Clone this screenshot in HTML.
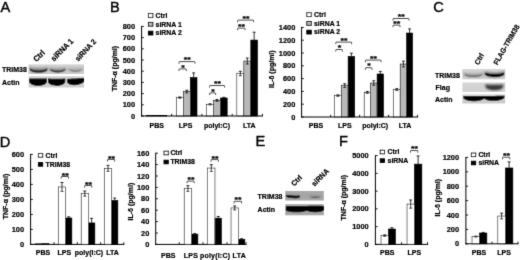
<!DOCTYPE html>
<html><head><meta charset="utf-8"><title>Figure</title>
<style>
html,body{margin:0;padding:0;background:#fff;}
body{width:520px;height:260px;overflow:hidden;}
svg{display:block;}
svg text{font-family:'Liberation Sans', Arial, sans-serif;fill:#000;stroke:#000;stroke-width:0.22px;}
</style></head><body>
<svg width="520" height="260" viewBox="0 0 520 260">
<defs><filter id="b0" x="-30%" y="-100%" width="160%" height="300%"><feGaussianBlur stdDeviation="0.55"/></filter><filter id="b1" x="-30%" y="-100%" width="160%" height="300%"><feGaussianBlur stdDeviation="0.8"/></filter><filter id="b2" x="-30%" y="-200%" width="160%" height="500%"><feGaussianBlur stdDeviation="0.9"/></filter><filter id="soft" x="0" y="0" width="520" height="260" filterUnits="userSpaceOnUse"><feConvolveMatrix order="3" kernelMatrix="0.018 0.135 0.018 0.135 1 0.135 0.018 0.135 0.018" divisor="1.612" edgeMode="duplicate" preserveAlpha="false"/></filter><clipPath id="c0"><rect x="28.60" y="64.60" width="55.40" height="9.40"/></clipPath><clipPath id="c1"><rect x="28.60" y="76.20" width="55.40" height="11.40"/></clipPath><clipPath id="c2"><rect x="462.40" y="69.00" width="42.80" height="10.30"/></clipPath><clipPath id="c3"><rect x="462.40" y="82.60" width="42.80" height="9.50"/></clipPath><clipPath id="c4"><rect x="462.40" y="94.40" width="42.80" height="9.00"/></clipPath><clipPath id="c5"><rect x="285.30" y="190.90" width="38.50" height="9.70"/></clipPath><clipPath id="c6"><rect x="285.30" y="204.20" width="38.50" height="11.00"/></clipPath></defs>
<rect x="0" y="0" width="520" height="260" fill="#fff"/>
<g filter="url(#soft)">
<text x="0.60" y="11.50" font-size="14.6" text-anchor="start" style="stroke-width:0.4px">A</text>
<text x="110.00" y="11.50" font-size="14.6" text-anchor="start" style="stroke-width:0.4px">B</text>
<text x="433.30" y="11.50" font-size="14.6" text-anchor="start" style="stroke-width:0.4px">C</text>
<text x="-0.20" y="146.60" font-size="14.6" text-anchor="start" style="stroke-width:0.4px">D</text>
<text x="255.40" y="146.40" font-size="14.6" text-anchor="start" style="stroke-width:0.4px">E</text>
<text x="339.00" y="146.40" font-size="14.6" text-anchor="start" style="stroke-width:0.4px">F</text>
<g clip-path="url(#c0)">
<rect x="27.60" y="63.60" width="57.40" height="11.40" fill="#c6c6c6"/>
<rect x="28.00" y="64.00" width="57.00" height="2.20" fill="#e0e0e0" opacity="0.7" filter="url(#b2)"/>
<rect x="28.00" y="72.80" width="57.00" height="1.60" fill="#dcdcdc" opacity="0.6" filter="url(#b2)"/>
<path d="M29.60 67.20 C31.76 69.07 45.44 69.07 47.60 67.20 L47.60 69.80 C45.44 73.67 31.76 73.67 29.60 69.80 Z" fill="#686868" opacity="0.85" filter="url(#b1)"/>
<path d="M30.00 68.50 C32.06 71.03 45.14 71.03 47.20 68.50 L47.20 70.00 C45.14 73.47 32.06 73.47 30.00 70.00 Z" fill="#161616" opacity="0.85" filter="url(#b0)"/>
<path d="M49.60 67.40 C51.52 69.27 63.68 69.27 65.60 67.40 L65.60 69.80 C63.68 73.40 51.52 73.40 49.60 69.80 Z" fill="#767676" opacity="0.8" filter="url(#b1)"/>
<path d="M50.20 68.80 C52.00 71.20 63.40 71.20 65.20 68.80 L65.20 70.00 C63.40 73.20 52.00 73.20 50.20 70.00 Z" fill="#262626" opacity="0.75" filter="url(#b0)"/>
<path d="M68.80 67.80 C70.41 69.40 80.59 69.40 82.20 67.80 L82.20 69.60 C80.59 72.67 70.41 72.67 68.80 69.60 Z" fill="#959595" opacity="0.7" filter="url(#b1)"/>
<path d="M69.60 69.00 C71.02 70.87 79.98 70.87 81.40 69.00 L81.40 70.00 C79.98 72.40 71.02 72.40 69.60 70.00 Z" fill="#606060" opacity="0.55" filter="url(#b0)"/>
</g>
<g clip-path="url(#c1)">
<rect x="27.60" y="75.20" width="57.40" height="13.40" fill="#cfcfcf"/>
<path d="M29.20 78.50 C31.32 78.50 44.78 78.50 46.90 78.50 L46.90 82.00 C44.78 87.20 31.32 87.20 29.20 82.00 Z" fill="#000" opacity="1" filter="url(#b0)"/>
<path d="M48.00 78.60 C50.08 78.87 63.22 78.87 65.30 78.60 L65.30 82.00 C63.22 87.20 50.08 87.20 48.00 82.00 Z" fill="#000" opacity="1" filter="url(#b0)"/>
<path d="M67.00 78.90 C69.06 78.90 82.14 78.00 84.20 78.00 L84.20 81.30 C82.14 85.83 69.06 86.73 67.00 82.20 Z" fill="#000" opacity="1" filter="url(#b0)"/>
</g>
<text transform="translate(2.00 72.10) scale(0.9346 1)" font-size="7.49" font-weight="bold" text-anchor="start">TRIM38</text>
<text transform="translate(2.00 84.90) scale(0.9346 1)" font-size="7.49" font-weight="bold" text-anchor="start">Actin</text>
<text transform="translate(36.50 62.20) rotate(-45) scale(0.9346 1)" font-size="7.92" font-weight="bold" text-anchor="start">Ctrl</text>
<text transform="translate(54.00 61.70) rotate(-45) scale(0.9346 1)" font-size="7.92" font-weight="bold" text-anchor="start">siRNA 1</text>
<text transform="translate(78.20 61.80) rotate(-47) scale(0.9346 1)" font-size="7.60" font-weight="bold" text-anchor="start">siRNA 2</text>
<g clip-path="url(#c2)">
<rect x="461.40" y="68.00" width="44.80" height="12.30" fill="#cbcbcb"/>
<rect x="462.00" y="68.50" width="44.00" height="2.40" fill="#e2e2e2" opacity="0.7" filter="url(#b2)"/>
<rect x="462.00" y="77.80" width="44.00" height="2.00" fill="#d8d8d8" opacity="0.6" filter="url(#b2)"/>
<path d="M463.60 72.80 C465.95 74.93 480.85 74.93 483.20 72.80 L483.20 74.40 C480.85 77.87 465.95 77.87 463.60 74.40 Z" fill="#7a7a7a" opacity="0.8" filter="url(#b1)"/>
<path d="M465.00 74.00 C467.04 76.00 479.96 76.00 482.00 74.00 L482.00 75.00 C479.96 77.53 467.04 77.53 465.00 75.00 Z" fill="#555" opacity="0.6" filter="url(#b0)"/>
<path d="M484.60 71.60 C487.00 73.47 502.20 73.47 504.60 71.60 L504.60 74.00 C502.20 78.27 487.00 78.27 484.60 74.00 Z" fill="#4a4a4a" opacity="0.85" filter="url(#b1)"/>
<path d="M485.20 72.60 C487.46 74.87 501.74 74.87 504.00 72.60 L504.00 74.60 C501.74 77.93 487.46 77.93 485.20 74.60 Z" fill="#000" opacity="0.95" filter="url(#b0)"/>
</g>
<g clip-path="url(#c3)">
<rect x="461.40" y="81.60" width="44.80" height="11.50" fill="#d2d2d2"/>
<rect x="462.00" y="82.00" width="44.00" height="1.60" fill="#e4e4e4" opacity="0.6" filter="url(#b2)"/>
<path d="M485.20 84.20 C487.38 84.47 501.22 84.47 503.40 84.20 L503.40 86.60 C501.22 91.00 487.38 91.00 485.20 86.60 Z" fill="#555" opacity="0.85" filter="url(#b1)"/>
<path d="M486.20 85.60 C488.17 86.13 500.63 86.13 502.60 85.60 L502.60 87.20 C500.63 90.67 488.17 90.67 486.20 87.20 Z" fill="#222" opacity="0.8" filter="url(#b1)"/>
</g>
<g clip-path="url(#c4)">
<rect x="461.40" y="93.40" width="44.80" height="11.00" fill="#cacaca"/>
<path d="M463.40 96.00 C465.92 96.00 481.88 96.00 484.40 96.00 L484.40 98.20 C481.88 102.20 465.92 102.20 463.40 98.20 Z" fill="#000" opacity="1" filter="url(#b0)"/>
<path d="M483.60 96.00 C486.10 96.00 501.90 95.70 504.40 95.70 L504.40 97.70 C501.90 101.70 486.10 102.00 483.60 98.00 Z" fill="#000" opacity="1" filter="url(#b0)"/>
</g>
<text transform="translate(435.00 78.00) scale(0.9346 1)" font-size="7.49" font-weight="bold" text-anchor="start">TRIM38</text>
<text transform="translate(435.60 89.80) scale(0.9346 1)" font-size="7.49" font-weight="bold" text-anchor="start">Flag</text>
<text transform="translate(435.00 102.00) scale(0.9346 1)" font-size="7.49" font-weight="bold" text-anchor="start">Actin</text>
<text transform="translate(478.40 65.40) rotate(-60) scale(0.9346 1)" font-size="7.38" font-weight="bold" text-anchor="start">Ctrl</text>
<text transform="translate(497.40 65.40) rotate(-60) scale(0.9346 1)" font-size="7.28" font-weight="bold" text-anchor="start">FLAG-TRIM38</text>
<g clip-path="url(#c5)">
<rect x="284.30" y="189.90" width="40.50" height="11.70" fill="#a6a6a6"/>
<rect x="285.00" y="199.40" width="40.00" height="1.40" fill="#bdbdbd" opacity="0.6" filter="url(#b2)"/>
<rect x="285.00" y="190.40" width="40.00" height="1.60" fill="#b4b4b4" opacity="0.6" filter="url(#b2)"/>
<path d="M286.00 194.60 C287.68 195.00 298.32 195.80 300.00 195.40 L300.00 197.60 C298.32 199.20 287.68 198.40 286.00 196.80 Z" fill="#555" opacity="0.6" filter="url(#b1)"/>
<path d="M286.20 195.00 C287.81 195.40 297.99 196.00 299.60 195.60 L299.60 197.20 C297.99 198.80 287.81 198.20 286.20 196.60 Z" fill="#000" opacity="0.95" filter="url(#b0)"/>
<path d="M309.80 195.80 C311.10 196.07 319.30 196.07 320.60 195.80 L320.60 197.00 C319.30 198.33 311.10 198.33 309.80 197.00 Z" fill="#555" opacity="0.5" filter="url(#b1)"/>
<path d="M311.00 196.50 C312.01 196.77 318.39 196.77 319.40 196.50 L319.40 197.10 C318.39 198.03 312.01 198.03 311.00 197.10 Z" fill="#333" opacity="0.55" filter="url(#b0)"/>
</g>
<g clip-path="url(#c6)">
<rect x="284.30" y="203.20" width="40.50" height="13.00" fill="#9e9e9e"/>
<rect x="285.00" y="213.80" width="40.00" height="1.80" fill="#bcbcbc" opacity="0.7" filter="url(#b2)"/>
<rect x="285.00" y="203.80" width="40.00" height="1.60" fill="#adadad" opacity="0.6" filter="url(#b2)"/>
<path d="M285.80 206.30 C288.32 205.90 304.28 205.90 306.80 206.30 L306.80 210.20 C304.28 213.00 288.32 213.00 285.80 210.20 Z" fill="#000" opacity="1" filter="url(#b0)"/>
<path d="M306.20 206.00 C308.36 205.60 322.04 205.60 324.20 206.00 L324.20 210.00 C322.04 212.93 308.36 212.93 306.20 210.00 Z" fill="#000" opacity="1" filter="url(#b0)"/>
<rect x="304" y="207.4" width="5" height="3.6" fill="#000" filter="url(#b0)"/>
</g>
<text transform="translate(257.60 199.20) scale(0.9346 1)" font-size="7.49" font-weight="bold" text-anchor="start">TRIM38</text>
<text transform="translate(257.60 212.20) scale(0.9346 1)" font-size="7.49" font-weight="bold" text-anchor="start">Actin</text>
<text transform="translate(294.30 186.50) rotate(-45) scale(0.9346 1)" font-size="7.38" font-weight="bold" text-anchor="start">Ctrl</text>
<text transform="translate(314.50 186.70) rotate(-45) scale(0.9346 1)" font-size="7.60" font-weight="bold" text-anchor="start">siRNA</text>
<rect x="146.10" y="115.55" width="7.00" height="0.45" fill="#fff" stroke="#000" stroke-width="0.6"/>
<rect x="153.10" y="115.44" width="7.00" height="0.56" fill="#b8b8b8" stroke="#000" stroke-width="0.6"/>
<rect x="160.10" y="115.44" width="6.70" height="0.56" fill="#000" stroke="#000" stroke-width="0.6"/>
<rect x="176.30" y="97.63" width="7.00" height="18.37" fill="#fff" stroke="#000" stroke-width="0.6"/>
<line x1="179.80" y1="96.96" x2="179.80" y2="98.30" stroke="#000" stroke-width="0.8"/>
<line x1="178.30" y1="96.96" x2="181.30" y2="96.96" stroke="#000" stroke-width="0.8"/>
<line x1="178.30" y1="98.30" x2="181.30" y2="98.30" stroke="#000" stroke-width="0.8"/>
<rect x="183.30" y="91.58" width="7.00" height="24.42" fill="#b8b8b8" stroke="#000" stroke-width="0.6"/>
<line x1="186.80" y1="90.24" x2="186.80" y2="92.93" stroke="#000" stroke-width="0.8"/>
<line x1="185.30" y1="90.24" x2="188.30" y2="90.24" stroke="#000" stroke-width="0.8"/>
<line x1="185.30" y1="92.93" x2="188.30" y2="92.93" stroke="#000" stroke-width="0.8"/>
<rect x="190.30" y="77.58" width="6.70" height="38.42" fill="#000" stroke="#000" stroke-width="0.6"/>
<line x1="193.65" y1="72.88" x2="193.65" y2="77.58" stroke="#000" stroke-width="0.8"/>
<line x1="192.15" y1="72.88" x2="195.15" y2="72.88" stroke="#000" stroke-width="0.8"/>
<rect x="206.50" y="104.35" width="7.00" height="11.65" fill="#fff" stroke="#000" stroke-width="0.6"/>
<line x1="210.00" y1="103.79" x2="210.00" y2="104.91" stroke="#000" stroke-width="0.8"/>
<line x1="208.50" y1="103.79" x2="211.50" y2="103.79" stroke="#000" stroke-width="0.8"/>
<line x1="208.50" y1="104.91" x2="211.50" y2="104.91" stroke="#000" stroke-width="0.8"/>
<rect x="213.50" y="100.43" width="7.00" height="15.57" fill="#b8b8b8" stroke="#000" stroke-width="0.6"/>
<line x1="217.00" y1="99.54" x2="217.00" y2="101.33" stroke="#000" stroke-width="0.8"/>
<line x1="215.50" y1="99.54" x2="218.50" y2="99.54" stroke="#000" stroke-width="0.8"/>
<line x1="215.50" y1="101.33" x2="218.50" y2="101.33" stroke="#000" stroke-width="0.8"/>
<rect x="220.50" y="97.97" width="6.70" height="18.03" fill="#000" stroke="#000" stroke-width="0.6"/>
<line x1="223.85" y1="97.30" x2="223.85" y2="97.97" stroke="#000" stroke-width="0.8"/>
<line x1="222.35" y1="97.30" x2="225.35" y2="97.30" stroke="#000" stroke-width="0.8"/>
<rect x="236.80" y="73.55" width="7.00" height="42.45" fill="#fff" stroke="#000" stroke-width="0.6"/>
<line x1="240.30" y1="71.31" x2="240.30" y2="75.79" stroke="#000" stroke-width="0.8"/>
<line x1="238.80" y1="71.31" x2="241.80" y2="71.31" stroke="#000" stroke-width="0.8"/>
<line x1="238.80" y1="75.79" x2="241.80" y2="75.79" stroke="#000" stroke-width="0.8"/>
<rect x="243.80" y="61.01" width="7.00" height="54.99" fill="#b8b8b8" stroke="#000" stroke-width="0.6"/>
<line x1="247.30" y1="57.98" x2="247.30" y2="64.03" stroke="#000" stroke-width="0.8"/>
<line x1="245.80" y1="57.98" x2="248.80" y2="57.98" stroke="#000" stroke-width="0.8"/>
<line x1="245.80" y1="64.03" x2="248.80" y2="64.03" stroke="#000" stroke-width="0.8"/>
<rect x="250.80" y="40.06" width="6.70" height="75.94" fill="#000" stroke="#000" stroke-width="0.6"/>
<line x1="254.15" y1="32.22" x2="254.15" y2="40.06" stroke="#000" stroke-width="0.8"/>
<line x1="252.65" y1="32.22" x2="255.65" y2="32.22" stroke="#000" stroke-width="0.8"/>
<line x1="141.60" y1="25.90" x2="141.60" y2="116.50" stroke="#000" stroke-width="1.0"/>
<line x1="141.10" y1="116.00" x2="262.90" y2="116.00" stroke="#000" stroke-width="1.0"/>
<line x1="141.60" y1="116.00" x2="143.80" y2="116.00" stroke="#000" stroke-width="0.9"/>
<text transform="translate(135.10 118.50) scale(0.9346 1)" font-size="7.92" font-weight="bold" text-anchor="end">0</text>
<line x1="141.60" y1="104.80" x2="143.80" y2="104.80" stroke="#000" stroke-width="0.9"/>
<text transform="translate(135.10 107.30) scale(0.9346 1)" font-size="7.92" font-weight="bold" text-anchor="end">100</text>
<line x1="141.60" y1="93.60" x2="143.80" y2="93.60" stroke="#000" stroke-width="0.9"/>
<text transform="translate(135.10 96.10) scale(0.9346 1)" font-size="7.92" font-weight="bold" text-anchor="end">200</text>
<line x1="141.60" y1="82.40" x2="143.80" y2="82.40" stroke="#000" stroke-width="0.9"/>
<text transform="translate(135.10 84.90) scale(0.9346 1)" font-size="7.92" font-weight="bold" text-anchor="end">300</text>
<line x1="141.60" y1="71.20" x2="143.80" y2="71.20" stroke="#000" stroke-width="0.9"/>
<text transform="translate(135.10 73.70) scale(0.9346 1)" font-size="7.92" font-weight="bold" text-anchor="end">400</text>
<line x1="141.60" y1="60.00" x2="143.80" y2="60.00" stroke="#000" stroke-width="0.9"/>
<text transform="translate(135.10 62.50) scale(0.9346 1)" font-size="7.92" font-weight="bold" text-anchor="end">500</text>
<line x1="141.60" y1="48.80" x2="143.80" y2="48.80" stroke="#000" stroke-width="0.9"/>
<text transform="translate(135.10 51.30) scale(0.9346 1)" font-size="7.92" font-weight="bold" text-anchor="end">600</text>
<line x1="141.60" y1="37.60" x2="143.80" y2="37.60" stroke="#000" stroke-width="0.9"/>
<text transform="translate(135.10 40.10) scale(0.9346 1)" font-size="7.92" font-weight="bold" text-anchor="end">700</text>
<line x1="141.60" y1="26.40" x2="143.80" y2="26.40" stroke="#000" stroke-width="0.9"/>
<text transform="translate(135.10 28.90) scale(0.9346 1)" font-size="7.92" font-weight="bold" text-anchor="end">800</text>
<line x1="171.70" y1="116.00" x2="171.70" y2="113.80" stroke="#000" stroke-width="0.9"/>
<line x1="201.90" y1="116.00" x2="201.90" y2="113.80" stroke="#000" stroke-width="0.9"/>
<line x1="232.20" y1="116.00" x2="232.20" y2="113.80" stroke="#000" stroke-width="0.9"/>
<line x1="262.40" y1="116.00" x2="262.40" y2="113.80" stroke="#000" stroke-width="0.9"/>
<text transform="translate(116.80 68.60) rotate(-90) scale(0.9346 1)" font-size="7.49" font-weight="bold" text-anchor="middle">TNF-α (pg/ml)</text>
<rect x="148.40" y="13.60" width="4.50" height="3.80" fill="#fff" stroke="#000" stroke-width="0.9"/>
<text transform="translate(155.60 17.70) scale(0.9346 1)" font-size="7.38" font-weight="bold" text-anchor="start">Ctrl</text>
<rect x="148.40" y="22.40" width="4.50" height="3.80" fill="#b8b8b8" stroke="#000" stroke-width="0.9"/>
<text transform="translate(155.60 26.50) scale(0.9346 1)" font-size="7.38" font-weight="bold" text-anchor="start">siRNA 1</text>
<rect x="148.40" y="31.20" width="4.50" height="3.80" fill="#000" stroke="#000" stroke-width="0.9"/>
<text transform="translate(155.60 35.30) scale(0.9346 1)" font-size="7.38" font-weight="bold" text-anchor="start">siRNA 2</text>
<text transform="translate(156.80 128.20) scale(0.9346 1)" font-size="7.49" font-weight="bold" text-anchor="middle">PBS</text>
<text transform="translate(185.50 128.20) scale(0.9346 1)" font-size="7.49" font-weight="bold" text-anchor="middle">LPS</text>
<text transform="translate(217.00 128.20) scale(0.9346 1)" font-size="7.49" font-weight="bold" text-anchor="middle">polyI:C)</text>
<text transform="translate(249.30 128.20) scale(0.9346 1)" font-size="7.49" font-weight="bold" text-anchor="middle">LTA</text>
<path d="M179.00 63.70V62.20Q179.00 61.60 179.60 61.60H194.30Q194.90 61.60 194.90 62.20V63.70" fill="none" stroke="#000" stroke-width="0.7"/>
<text transform="translate(187.25 62.20) scale(1.1 0.86)" font-size="8.2" font-weight="bold" text-anchor="middle" style="stroke-width:0.25px">**</text>
<path d="M179.00 71.00V69.50Q179.00 68.90 179.60 68.90H185.70Q186.30 68.90 186.30 69.50V71.00" fill="none" stroke="#000" stroke-width="0.7"/>
<text transform="translate(182.95 69.90) scale(1.1 0.86)" font-size="8.2" font-weight="bold" text-anchor="middle" style="stroke-width:0.25px">*</text>
<path d="M209.60 87.60V86.10Q209.60 85.50 210.20 85.50H224.00Q224.60 85.50 224.60 86.10V87.60" fill="none" stroke="#000" stroke-width="0.7"/>
<text transform="translate(217.40 86.10) scale(1.1 0.86)" font-size="8.2" font-weight="bold" text-anchor="middle" style="stroke-width:0.25px">**</text>
<path d="M209.60 95.00V93.50Q209.60 92.90 210.20 92.90H215.00Q215.60 92.90 215.60 93.50V95.00" fill="none" stroke="#000" stroke-width="0.7"/>
<text transform="translate(212.90 93.90) scale(1.1 0.86)" font-size="8.2" font-weight="bold" text-anchor="middle" style="stroke-width:0.25px">*</text>
<path d="M237.60 22.20V20.70Q237.60 20.10 238.20 20.10H253.00Q253.60 20.10 253.60 20.70V22.20" fill="none" stroke="#000" stroke-width="0.7"/>
<text transform="translate(245.90 20.70) scale(1.1 0.86)" font-size="8.2" font-weight="bold" text-anchor="middle" style="stroke-width:0.25px">**</text>
<path d="M237.60 30.20V28.70Q237.60 28.10 238.20 28.10H244.40Q245.00 28.10 245.00 28.70V30.20" fill="none" stroke="#000" stroke-width="0.7"/>
<text transform="translate(241.60 28.70) scale(1.1 0.86)" font-size="8.2" font-weight="bold" text-anchor="middle" style="stroke-width:0.25px">**</text>
<rect x="334.43" y="95.62" width="6.85" height="21.38" fill="#fff" stroke="#000" stroke-width="0.6"/>
<line x1="337.85" y1="94.86" x2="337.85" y2="96.39" stroke="#000" stroke-width="0.8"/>
<line x1="336.35" y1="94.86" x2="339.35" y2="94.86" stroke="#000" stroke-width="0.8"/>
<line x1="336.35" y1="96.39" x2="339.35" y2="96.39" stroke="#000" stroke-width="0.8"/>
<rect x="341.28" y="85.64" width="6.85" height="31.36" fill="#b8b8b8" stroke="#000" stroke-width="0.6"/>
<line x1="344.70" y1="83.72" x2="344.70" y2="87.56" stroke="#000" stroke-width="0.8"/>
<line x1="343.20" y1="83.72" x2="346.20" y2="83.72" stroke="#000" stroke-width="0.8"/>
<line x1="343.20" y1="87.56" x2="346.20" y2="87.56" stroke="#000" stroke-width="0.8"/>
<rect x="348.12" y="56.39" width="6.55" height="60.61" fill="#000" stroke="#000" stroke-width="0.6"/>
<line x1="351.40" y1="53.19" x2="351.40" y2="56.39" stroke="#000" stroke-width="0.8"/>
<line x1="349.90" y1="53.19" x2="352.90" y2="53.19" stroke="#000" stroke-width="0.8"/>
<rect x="364.20" y="92.42" width="6.20" height="24.58" fill="#fff" stroke="#000" stroke-width="0.6"/>
<line x1="367.30" y1="91.46" x2="367.30" y2="93.38" stroke="#000" stroke-width="0.8"/>
<line x1="365.80" y1="91.46" x2="368.80" y2="91.46" stroke="#000" stroke-width="0.8"/>
<line x1="365.80" y1="93.38" x2="368.80" y2="93.38" stroke="#000" stroke-width="0.8"/>
<rect x="370.40" y="83.02" width="6.70" height="33.98" fill="#b8b8b8" stroke="#000" stroke-width="0.6"/>
<line x1="373.75" y1="80.78" x2="373.75" y2="85.26" stroke="#000" stroke-width="0.8"/>
<line x1="372.25" y1="80.78" x2="375.25" y2="80.78" stroke="#000" stroke-width="0.8"/>
<line x1="372.25" y1="85.26" x2="375.25" y2="85.26" stroke="#000" stroke-width="0.8"/>
<rect x="377.10" y="73.99" width="6.40" height="43.01" fill="#000" stroke="#000" stroke-width="0.6"/>
<line x1="380.30" y1="71.43" x2="380.30" y2="73.99" stroke="#000" stroke-width="0.8"/>
<line x1="378.80" y1="71.43" x2="381.80" y2="71.43" stroke="#000" stroke-width="0.8"/>
<rect x="393.40" y="89.61" width="6.80" height="27.39" fill="#fff" stroke="#000" stroke-width="0.6"/>
<line x1="396.80" y1="88.65" x2="396.80" y2="90.57" stroke="#000" stroke-width="0.8"/>
<line x1="395.30" y1="88.65" x2="398.30" y2="88.65" stroke="#000" stroke-width="0.8"/>
<line x1="395.30" y1="90.57" x2="398.30" y2="90.57" stroke="#000" stroke-width="0.8"/>
<rect x="400.20" y="64.01" width="6.40" height="52.99" fill="#b8b8b8" stroke="#000" stroke-width="0.6"/>
<line x1="403.40" y1="61.13" x2="403.40" y2="66.89" stroke="#000" stroke-width="0.8"/>
<line x1="401.90" y1="61.13" x2="404.90" y2="61.13" stroke="#000" stroke-width="0.8"/>
<line x1="401.90" y1="66.89" x2="404.90" y2="66.89" stroke="#000" stroke-width="0.8"/>
<rect x="406.60" y="33.03" width="6.00" height="83.97" fill="#000" stroke="#000" stroke-width="0.6"/>
<line x1="409.60" y1="28.87" x2="409.60" y2="33.03" stroke="#000" stroke-width="0.8"/>
<line x1="408.10" y1="28.87" x2="411.10" y2="28.87" stroke="#000" stroke-width="0.8"/>
<line x1="301.60" y1="26.90" x2="301.60" y2="117.50" stroke="#000" stroke-width="1.0"/>
<line x1="301.10" y1="117.00" x2="418.10" y2="117.00" stroke="#000" stroke-width="1.0"/>
<line x1="301.60" y1="117.00" x2="303.80" y2="117.00" stroke="#000" stroke-width="0.9"/>
<text transform="translate(295.30 119.50) scale(0.9346 1)" font-size="7.92" font-weight="bold" text-anchor="end">0</text>
<line x1="301.60" y1="104.20" x2="303.80" y2="104.20" stroke="#000" stroke-width="0.9"/>
<text transform="translate(295.30 106.70) scale(0.9346 1)" font-size="7.92" font-weight="bold" text-anchor="end">200</text>
<line x1="301.60" y1="91.40" x2="303.80" y2="91.40" stroke="#000" stroke-width="0.9"/>
<text transform="translate(295.30 93.90) scale(0.9346 1)" font-size="7.92" font-weight="bold" text-anchor="end">400</text>
<line x1="301.60" y1="78.60" x2="303.80" y2="78.60" stroke="#000" stroke-width="0.9"/>
<text transform="translate(295.30 81.10) scale(0.9346 1)" font-size="7.92" font-weight="bold" text-anchor="end">600</text>
<line x1="301.60" y1="65.80" x2="303.80" y2="65.80" stroke="#000" stroke-width="0.9"/>
<text transform="translate(295.30 68.30) scale(0.9346 1)" font-size="7.92" font-weight="bold" text-anchor="end">800</text>
<line x1="301.60" y1="53.00" x2="303.80" y2="53.00" stroke="#000" stroke-width="0.9"/>
<text transform="translate(295.30 55.50) scale(0.9346 1)" font-size="7.92" font-weight="bold" text-anchor="end">1000</text>
<line x1="301.60" y1="40.20" x2="303.80" y2="40.20" stroke="#000" stroke-width="0.9"/>
<text transform="translate(295.30 42.70) scale(0.9346 1)" font-size="7.92" font-weight="bold" text-anchor="end">1200</text>
<line x1="301.60" y1="27.40" x2="303.80" y2="27.40" stroke="#000" stroke-width="0.9"/>
<text transform="translate(295.30 29.90) scale(0.9346 1)" font-size="7.92" font-weight="bold" text-anchor="end">1400</text>
<line x1="330.60" y1="117.00" x2="330.60" y2="114.80" stroke="#000" stroke-width="0.9"/>
<line x1="359.60" y1="117.00" x2="359.60" y2="114.80" stroke="#000" stroke-width="0.9"/>
<line x1="388.60" y1="117.00" x2="388.60" y2="114.80" stroke="#000" stroke-width="0.9"/>
<line x1="417.60" y1="117.00" x2="417.60" y2="114.80" stroke="#000" stroke-width="0.9"/>
<text transform="translate(273.80 69.20) rotate(-90) scale(0.9346 1)" font-size="7.49" font-weight="bold" text-anchor="middle">IL-6 (pg/ml)</text>
<rect x="306.80" y="12.70" width="4.50" height="3.80" fill="#fff" stroke="#000" stroke-width="0.9"/>
<text transform="translate(314.00 16.80) scale(0.9346 1)" font-size="7.38" font-weight="bold" text-anchor="start">Ctrl</text>
<rect x="306.80" y="21.50" width="4.50" height="3.80" fill="#b8b8b8" stroke="#000" stroke-width="0.9"/>
<text transform="translate(314.00 25.60) scale(0.9346 1)" font-size="7.38" font-weight="bold" text-anchor="start">siRNA 1</text>
<rect x="306.80" y="30.20" width="4.50" height="3.80" fill="#000" stroke="#000" stroke-width="0.9"/>
<text transform="translate(314.00 34.30) scale(0.9346 1)" font-size="7.38" font-weight="bold" text-anchor="start">siRNA 2</text>
<text transform="translate(316.00 128.20) scale(0.9346 1)" font-size="7.49" font-weight="bold" text-anchor="middle">PBS</text>
<text transform="translate(344.80 128.20) scale(0.9346 1)" font-size="7.49" font-weight="bold" text-anchor="middle">LPS</text>
<text transform="translate(375.20 128.20) scale(0.9346 1)" font-size="7.49" font-weight="bold" text-anchor="middle">polyI:C)</text>
<text transform="translate(405.00 128.20) scale(0.9346 1)" font-size="7.49" font-weight="bold" text-anchor="middle">LTA</text>
<path d="M335.80 44.20V42.70Q335.80 42.10 336.40 42.10H351.00Q351.60 42.10 351.60 42.70V44.20" fill="none" stroke="#000" stroke-width="0.7"/>
<text transform="translate(344.00 42.70) scale(1.1 0.86)" font-size="8.2" font-weight="bold" text-anchor="middle" style="stroke-width:0.25px">**</text>
<path d="M335.80 51.60V50.10Q335.80 49.50 336.40 49.50H341.80Q342.40 49.50 342.40 50.10V51.60" fill="none" stroke="#000" stroke-width="0.7"/>
<text transform="translate(339.40 50.10) scale(1.1 0.86)" font-size="8.2" font-weight="bold" text-anchor="middle" style="stroke-width:0.25px">*</text>
<path d="M365.40 62.20V60.70Q365.40 60.10 366.00 60.10H380.40Q381.00 60.10 381.00 60.70V62.20" fill="none" stroke="#000" stroke-width="0.7"/>
<text transform="translate(373.50 60.70) scale(1.1 0.86)" font-size="8.2" font-weight="bold" text-anchor="middle" style="stroke-width:0.25px">**</text>
<path d="M365.40 69.80V68.30Q365.40 67.70 366.00 67.70H371.40Q372.00 67.70 372.00 68.30V69.80" fill="none" stroke="#000" stroke-width="0.7"/>
<text transform="translate(369.00 68.30) scale(1.1 0.86)" font-size="8.2" font-weight="bold" text-anchor="middle" style="stroke-width:0.25px">*</text>
<path d="M393.00 20.60V19.10Q393.00 18.50 393.60 18.50H408.40Q409.00 18.50 409.00 19.10V20.60" fill="none" stroke="#000" stroke-width="0.7"/>
<text transform="translate(401.30 19.10) scale(1.1 0.86)" font-size="8.2" font-weight="bold" text-anchor="middle" style="stroke-width:0.25px">**</text>
<path d="M393.00 27.20V25.70Q393.00 25.10 393.60 25.10H399.40Q400.00 25.10 400.00 25.70V27.20" fill="none" stroke="#000" stroke-width="0.7"/>
<text transform="translate(396.80 25.70) scale(1.1 0.86)" font-size="8.2" font-weight="bold" text-anchor="middle" style="stroke-width:0.25px">**</text>
<rect x="35.00" y="243.80" width="7.00" height="0.60" fill="#fff" stroke="#000" stroke-width="0.6"/>
<rect x="42.00" y="243.65" width="6.85" height="0.75" fill="#000" stroke="#000" stroke-width="0.6"/>
<rect x="58.40" y="186.95" width="7.20" height="57.45" fill="#fff" stroke="#000" stroke-width="0.6"/>
<line x1="62.00" y1="182.45" x2="62.00" y2="191.45" stroke="#000" stroke-width="0.8"/>
<line x1="60.50" y1="182.45" x2="63.50" y2="182.45" stroke="#000" stroke-width="0.8"/>
<line x1="60.50" y1="191.45" x2="63.50" y2="191.45" stroke="#000" stroke-width="0.8"/>
<rect x="65.60" y="218.00" width="6.25" height="26.40" fill="#000" stroke="#000" stroke-width="0.6"/>
<line x1="68.72" y1="216.80" x2="68.72" y2="218.00" stroke="#000" stroke-width="0.8"/>
<line x1="67.22" y1="216.80" x2="70.22" y2="216.80" stroke="#000" stroke-width="0.8"/>
<rect x="81.20" y="193.55" width="7.20" height="50.85" fill="#fff" stroke="#000" stroke-width="0.6"/>
<line x1="84.80" y1="191.00" x2="84.80" y2="196.10" stroke="#000" stroke-width="0.8"/>
<line x1="83.30" y1="191.00" x2="86.30" y2="191.00" stroke="#000" stroke-width="0.8"/>
<line x1="83.30" y1="196.10" x2="86.30" y2="196.10" stroke="#000" stroke-width="0.8"/>
<rect x="88.40" y="222.95" width="6.45" height="21.45" fill="#000" stroke="#000" stroke-width="0.6"/>
<line x1="91.62" y1="218.30" x2="91.62" y2="222.95" stroke="#000" stroke-width="0.8"/>
<line x1="90.12" y1="218.30" x2="93.12" y2="218.30" stroke="#000" stroke-width="0.8"/>
<rect x="104.40" y="168.35" width="7.20" height="76.05" fill="#fff" stroke="#000" stroke-width="0.6"/>
<line x1="108.00" y1="165.35" x2="108.00" y2="171.35" stroke="#000" stroke-width="0.8"/>
<line x1="106.50" y1="165.35" x2="109.50" y2="165.35" stroke="#000" stroke-width="0.8"/>
<line x1="106.50" y1="171.35" x2="109.50" y2="171.35" stroke="#000" stroke-width="0.8"/>
<rect x="111.60" y="200.45" width="6.25" height="43.95" fill="#000" stroke="#000" stroke-width="0.6"/>
<line x1="114.73" y1="198.05" x2="114.73" y2="200.45" stroke="#000" stroke-width="0.8"/>
<line x1="113.23" y1="198.05" x2="116.23" y2="198.05" stroke="#000" stroke-width="0.8"/>
<line x1="30.60" y1="153.90" x2="30.60" y2="244.90" stroke="#000" stroke-width="1.0"/>
<line x1="30.10" y1="244.40" x2="124.30" y2="244.40" stroke="#000" stroke-width="1.0"/>
<line x1="30.60" y1="244.40" x2="32.80" y2="244.40" stroke="#000" stroke-width="0.9"/>
<text transform="translate(24.10 246.90) scale(0.9346 1)" font-size="7.92" font-weight="bold" text-anchor="end">0</text>
<line x1="30.60" y1="229.40" x2="32.80" y2="229.40" stroke="#000" stroke-width="0.9"/>
<text transform="translate(24.10 231.90) scale(0.9346 1)" font-size="7.92" font-weight="bold" text-anchor="end">100</text>
<line x1="30.60" y1="214.40" x2="32.80" y2="214.40" stroke="#000" stroke-width="0.9"/>
<text transform="translate(24.10 216.90) scale(0.9346 1)" font-size="7.92" font-weight="bold" text-anchor="end">200</text>
<line x1="30.60" y1="199.40" x2="32.80" y2="199.40" stroke="#000" stroke-width="0.9"/>
<text transform="translate(24.10 201.90) scale(0.9346 1)" font-size="7.92" font-weight="bold" text-anchor="end">300</text>
<line x1="30.60" y1="184.40" x2="32.80" y2="184.40" stroke="#000" stroke-width="0.9"/>
<text transform="translate(24.10 186.90) scale(0.9346 1)" font-size="7.92" font-weight="bold" text-anchor="end">400</text>
<line x1="30.60" y1="169.40" x2="32.80" y2="169.40" stroke="#000" stroke-width="0.9"/>
<text transform="translate(24.10 171.90) scale(0.9346 1)" font-size="7.92" font-weight="bold" text-anchor="end">500</text>
<line x1="30.60" y1="154.40" x2="32.80" y2="154.40" stroke="#000" stroke-width="0.9"/>
<text transform="translate(24.10 156.90) scale(0.9346 1)" font-size="7.92" font-weight="bold" text-anchor="end">600</text>
<line x1="54.00" y1="244.40" x2="54.00" y2="242.20" stroke="#000" stroke-width="0.9"/>
<line x1="77.30" y1="244.40" x2="77.30" y2="242.20" stroke="#000" stroke-width="0.9"/>
<line x1="100.60" y1="244.40" x2="100.60" y2="242.20" stroke="#000" stroke-width="0.9"/>
<line x1="123.80" y1="244.40" x2="123.80" y2="242.20" stroke="#000" stroke-width="0.9"/>
<text transform="translate(7.50 196.50) rotate(-90) scale(0.9346 1)" font-size="7.49" font-weight="bold" text-anchor="middle">TNF-α (pg/ml)</text>
<rect x="38.40" y="153.60" width="4.30" height="3.60" fill="#fff" stroke="#000" stroke-width="0.9"/>
<text transform="translate(45.60 157.60) scale(0.9346 1)" font-size="7.38" font-weight="bold" text-anchor="start">Ctrl</text>
<rect x="38.40" y="162.60" width="4.30" height="3.60" fill="#000" stroke="#000" stroke-width="0.9"/>
<text transform="translate(45.60 166.60) scale(0.9346 1)" font-size="7.38" font-weight="bold" text-anchor="start">TRIM38</text>
<text transform="translate(43.00 255.40) scale(0.9346 1)" font-size="7.49" font-weight="bold" text-anchor="middle">PBS</text>
<text transform="translate(64.30 255.40) scale(0.9346 1)" font-size="7.49" font-weight="bold" text-anchor="middle">LPS</text>
<text transform="translate(89.00 255.40) scale(0.9346 1)" font-size="7.49" font-weight="bold" text-anchor="middle">poly(I:C)</text>
<text transform="translate(112.50 255.40) scale(0.9346 1)" font-size="7.49" font-weight="bold" text-anchor="middle">LTA</text>
<path d="M61.20 178.60V177.10Q61.20 176.50 61.80 176.50H67.90Q68.50 176.50 68.50 177.10V178.60" fill="none" stroke="#000" stroke-width="0.7"/>
<text transform="translate(65.15 177.60) scale(1.1 0.86)" font-size="8.2" font-weight="bold" text-anchor="middle" style="stroke-width:0.25px">**</text>
<path d="M84.60 187.60V186.10Q84.60 185.50 85.20 185.50H91.30Q91.90 185.50 91.90 186.10V187.60" fill="none" stroke="#000" stroke-width="0.7"/>
<text transform="translate(88.55 186.60) scale(1.1 0.86)" font-size="8.2" font-weight="bold" text-anchor="middle" style="stroke-width:0.25px">**</text>
<path d="M107.50 161.50V160.00Q107.50 159.40 108.10 159.40H114.10Q114.70 159.40 114.70 160.00V161.50" fill="none" stroke="#000" stroke-width="0.7"/>
<text transform="translate(111.40 160.50) scale(1.1 0.86)" font-size="8.2" font-weight="bold" text-anchor="middle" style="stroke-width:0.25px">**</text>
<rect x="184.20" y="188.54" width="7.40" height="55.86" fill="#fff" stroke="#000" stroke-width="0.6"/>
<line x1="187.90" y1="185.69" x2="187.90" y2="191.39" stroke="#000" stroke-width="0.8"/>
<line x1="186.40" y1="185.69" x2="189.40" y2="185.69" stroke="#000" stroke-width="0.8"/>
<line x1="186.40" y1="191.39" x2="189.40" y2="191.39" stroke="#000" stroke-width="0.8"/>
<rect x="191.60" y="234.14" width="6.25" height="10.26" fill="#000" stroke="#000" stroke-width="0.6"/>
<line x1="194.72" y1="233.57" x2="194.72" y2="234.14" stroke="#000" stroke-width="0.8"/>
<line x1="193.22" y1="233.57" x2="196.22" y2="233.57" stroke="#000" stroke-width="0.8"/>
<rect x="207.60" y="168.02" width="7.40" height="76.38" fill="#fff" stroke="#000" stroke-width="0.6"/>
<line x1="211.30" y1="164.60" x2="211.30" y2="171.44" stroke="#000" stroke-width="0.8"/>
<line x1="209.80" y1="164.60" x2="212.80" y2="164.60" stroke="#000" stroke-width="0.8"/>
<line x1="209.80" y1="171.44" x2="212.80" y2="171.44" stroke="#000" stroke-width="0.8"/>
<rect x="215.00" y="218.18" width="6.45" height="26.22" fill="#000" stroke="#000" stroke-width="0.6"/>
<line x1="218.22" y1="216.47" x2="218.22" y2="218.18" stroke="#000" stroke-width="0.8"/>
<line x1="216.72" y1="216.47" x2="219.72" y2="216.47" stroke="#000" stroke-width="0.8"/>
<rect x="231.00" y="207.92" width="7.40" height="36.48" fill="#fff" stroke="#000" stroke-width="0.6"/>
<line x1="234.70" y1="205.93" x2="234.70" y2="209.91" stroke="#000" stroke-width="0.8"/>
<line x1="233.20" y1="205.93" x2="236.20" y2="205.93" stroke="#000" stroke-width="0.8"/>
<line x1="233.20" y1="209.91" x2="236.20" y2="209.91" stroke="#000" stroke-width="0.8"/>
<rect x="238.40" y="239.27" width="6.45" height="5.13" fill="#000" stroke="#000" stroke-width="0.6"/>
<line x1="241.62" y1="238.70" x2="241.62" y2="239.27" stroke="#000" stroke-width="0.8"/>
<line x1="240.12" y1="238.70" x2="243.12" y2="238.70" stroke="#000" stroke-width="0.8"/>
<line x1="155.70" y1="152.70" x2="155.70" y2="244.90" stroke="#000" stroke-width="1.0"/>
<line x1="155.20" y1="244.40" x2="246.50" y2="244.40" stroke="#000" stroke-width="1.0"/>
<line x1="155.70" y1="244.40" x2="157.90" y2="244.40" stroke="#000" stroke-width="0.9"/>
<text transform="translate(149.30 246.90) scale(0.9346 1)" font-size="7.92" font-weight="bold" text-anchor="end">0</text>
<line x1="155.70" y1="233.00" x2="157.90" y2="233.00" stroke="#000" stroke-width="0.9"/>
<text transform="translate(149.30 235.50) scale(0.9346 1)" font-size="7.92" font-weight="bold" text-anchor="end">20</text>
<line x1="155.70" y1="221.60" x2="157.90" y2="221.60" stroke="#000" stroke-width="0.9"/>
<text transform="translate(149.30 224.10) scale(0.9346 1)" font-size="7.92" font-weight="bold" text-anchor="end">40</text>
<line x1="155.70" y1="210.20" x2="157.90" y2="210.20" stroke="#000" stroke-width="0.9"/>
<text transform="translate(149.30 212.70) scale(0.9346 1)" font-size="7.92" font-weight="bold" text-anchor="end">60</text>
<line x1="155.70" y1="198.80" x2="157.90" y2="198.80" stroke="#000" stroke-width="0.9"/>
<text transform="translate(149.30 201.30) scale(0.9346 1)" font-size="7.92" font-weight="bold" text-anchor="end">80</text>
<line x1="155.70" y1="187.40" x2="157.90" y2="187.40" stroke="#000" stroke-width="0.9"/>
<text transform="translate(149.30 189.90) scale(0.9346 1)" font-size="7.92" font-weight="bold" text-anchor="end">100</text>
<line x1="155.70" y1="176.00" x2="157.90" y2="176.00" stroke="#000" stroke-width="0.9"/>
<text transform="translate(149.30 178.50) scale(0.9346 1)" font-size="7.92" font-weight="bold" text-anchor="end">120</text>
<line x1="155.70" y1="164.60" x2="157.90" y2="164.60" stroke="#000" stroke-width="0.9"/>
<text transform="translate(149.30 167.10) scale(0.9346 1)" font-size="7.92" font-weight="bold" text-anchor="end">140</text>
<line x1="155.70" y1="153.20" x2="157.90" y2="153.20" stroke="#000" stroke-width="0.9"/>
<text transform="translate(149.30 155.70) scale(0.9346 1)" font-size="7.92" font-weight="bold" text-anchor="end">160</text>
<line x1="179.20" y1="244.40" x2="179.20" y2="242.20" stroke="#000" stroke-width="0.9"/>
<line x1="203.00" y1="244.40" x2="203.00" y2="242.20" stroke="#000" stroke-width="0.9"/>
<line x1="227.00" y1="244.40" x2="227.00" y2="242.20" stroke="#000" stroke-width="0.9"/>
<line x1="246.00" y1="244.40" x2="246.00" y2="242.20" stroke="#000" stroke-width="0.9"/>
<text transform="translate(133.40 201.60) rotate(-90) scale(0.9346 1)" font-size="7.49" font-weight="bold" text-anchor="middle">IL-6 (pg/ml)</text>
<rect x="164.00" y="151.20" width="4.30" height="3.60" fill="#fff" stroke="#000" stroke-width="0.9"/>
<text transform="translate(170.40 155.20) scale(0.9346 1)" font-size="7.38" font-weight="bold" text-anchor="start">Ctrl</text>
<rect x="164.00" y="160.20" width="4.30" height="3.60" fill="#000" stroke="#000" stroke-width="0.9"/>
<text transform="translate(170.40 164.20) scale(0.9346 1)" font-size="7.38" font-weight="bold" text-anchor="start">TRIM38</text>
<text transform="translate(168.30 257.60) scale(0.9346 1)" font-size="7.49" font-weight="bold" text-anchor="middle">PBS</text>
<text transform="translate(191.00 257.60) scale(0.9346 1)" font-size="7.49" font-weight="bold" text-anchor="middle" letter-spacing="0.3">LPS</text>
<text transform="translate(215.10 257.60) scale(0.9346 1)" font-size="7.49" font-weight="bold" text-anchor="middle" letter-spacing="0.22">poly(I:C)</text>
<text transform="translate(239.40 257.60) scale(0.9346 1)" font-size="7.49" font-weight="bold" text-anchor="middle" letter-spacing="0.5">LTA</text>
<path d="M187.00 183.20V181.70Q187.00 181.10 187.60 181.10H193.60Q194.20 181.10 194.20 181.70V183.20" fill="none" stroke="#000" stroke-width="0.7"/>
<text transform="translate(190.90 182.20) scale(1.1 0.86)" font-size="8.2" font-weight="bold" text-anchor="middle" style="stroke-width:0.25px">**</text>
<path d="M211.00 161.70V160.20Q211.00 159.60 211.60 159.60H217.80Q218.40 159.60 218.40 160.20V161.70" fill="none" stroke="#000" stroke-width="0.7"/>
<text transform="translate(215.00 160.70) scale(1.1 0.86)" font-size="8.2" font-weight="bold" text-anchor="middle" style="stroke-width:0.25px">**</text>
<path d="M234.00 203.40V201.90Q234.00 201.30 234.60 201.30H241.00Q241.60 201.30 241.60 201.90V203.40" fill="none" stroke="#000" stroke-width="0.7"/>
<text transform="translate(238.10 202.40) scale(1.1 0.86)" font-size="8.2" font-weight="bold" text-anchor="middle" style="stroke-width:0.25px">**</text>
<rect x="381.00" y="235.61" width="7.40" height="8.79" fill="#fff" stroke="#000" stroke-width="0.6"/>
<line x1="384.70" y1="234.90" x2="384.70" y2="236.32" stroke="#000" stroke-width="0.8"/>
<line x1="383.20" y1="234.90" x2="386.20" y2="234.90" stroke="#000" stroke-width="0.8"/>
<line x1="383.20" y1="236.32" x2="386.20" y2="236.32" stroke="#000" stroke-width="0.8"/>
<rect x="388.40" y="229.00" width="7.05" height="15.40" fill="#000" stroke="#000" stroke-width="0.6"/>
<line x1="391.92" y1="227.76" x2="391.92" y2="229.00" stroke="#000" stroke-width="0.8"/>
<line x1="390.42" y1="227.76" x2="393.42" y2="227.76" stroke="#000" stroke-width="0.8"/>
<rect x="407.00" y="204.07" width="7.40" height="40.33" fill="#fff" stroke="#000" stroke-width="0.6"/>
<line x1="410.70" y1="199.98" x2="410.70" y2="208.15" stroke="#000" stroke-width="0.8"/>
<line x1="409.20" y1="199.98" x2="412.20" y2="199.98" stroke="#000" stroke-width="0.8"/>
<line x1="409.20" y1="208.15" x2="412.20" y2="208.15" stroke="#000" stroke-width="0.8"/>
<rect x="414.40" y="164.12" width="7.45" height="80.28" fill="#000" stroke="#000" stroke-width="0.6"/>
<line x1="418.12" y1="155.96" x2="418.12" y2="164.12" stroke="#000" stroke-width="0.8"/>
<line x1="416.62" y1="155.96" x2="419.62" y2="155.96" stroke="#000" stroke-width="0.8"/>
<line x1="375.40" y1="155.10" x2="375.40" y2="244.90" stroke="#000" stroke-width="1.0"/>
<line x1="374.90" y1="244.40" x2="428.10" y2="244.40" stroke="#000" stroke-width="1.0"/>
<line x1="375.40" y1="244.40" x2="377.60" y2="244.40" stroke="#000" stroke-width="0.9"/>
<text transform="translate(368.70 246.90) scale(0.9346 1)" font-size="7.92" font-weight="bold" text-anchor="end">0</text>
<line x1="375.40" y1="226.64" x2="377.60" y2="226.64" stroke="#000" stroke-width="0.9"/>
<text transform="translate(368.70 229.14) scale(0.9346 1)" font-size="7.92" font-weight="bold" text-anchor="end">1000</text>
<line x1="375.40" y1="208.88" x2="377.60" y2="208.88" stroke="#000" stroke-width="0.9"/>
<text transform="translate(368.70 211.38) scale(0.9346 1)" font-size="7.92" font-weight="bold" text-anchor="end">2000</text>
<line x1="375.40" y1="191.12" x2="377.60" y2="191.12" stroke="#000" stroke-width="0.9"/>
<text transform="translate(368.70 193.62) scale(0.9346 1)" font-size="7.92" font-weight="bold" text-anchor="end">3000</text>
<line x1="375.40" y1="173.36" x2="377.60" y2="173.36" stroke="#000" stroke-width="0.9"/>
<text transform="translate(368.70 175.86) scale(0.9346 1)" font-size="7.92" font-weight="bold" text-anchor="end">4000</text>
<line x1="375.40" y1="155.60" x2="377.60" y2="155.60" stroke="#000" stroke-width="0.9"/>
<text transform="translate(368.70 158.10) scale(0.9346 1)" font-size="7.92" font-weight="bold" text-anchor="end">5000</text>
<line x1="401.60" y1="244.40" x2="401.60" y2="242.20" stroke="#000" stroke-width="0.9"/>
<line x1="427.60" y1="244.40" x2="427.60" y2="242.20" stroke="#000" stroke-width="0.9"/>
<text transform="translate(346.30 197.70) rotate(-90) scale(0.9346 1)" font-size="7.49" font-weight="bold" text-anchor="middle">TNF-α (pg/ml)</text>
<rect x="380.20" y="150.20" width="4.30" height="3.60" fill="#fff" stroke="#000" stroke-width="0.9"/>
<text transform="translate(387.60 154.20) scale(0.9346 1)" font-size="7.38" font-weight="bold" text-anchor="start">Ctrl</text>
<rect x="380.20" y="158.80" width="4.30" height="3.60" fill="#000" stroke="#000" stroke-width="0.9"/>
<text transform="translate(387.60 162.80) scale(0.9346 1)" font-size="7.38" font-weight="bold" text-anchor="start">siRNA</text>
<text transform="translate(387.20 255.40) scale(0.9346 1)" font-size="7.49" font-weight="bold" text-anchor="middle">PBS</text>
<text transform="translate(414.30 255.40) scale(0.9346 1)" font-size="7.49" font-weight="bold" text-anchor="middle">LPS</text>
<path d="M410.50 152.60V151.10Q410.50 150.50 411.10 150.50H417.20Q417.80 150.50 417.80 151.10V152.60" fill="none" stroke="#000" stroke-width="0.7"/>
<text transform="translate(414.45 151.10) scale(1.1 0.86)" font-size="8.2" font-weight="bold" text-anchor="middle" style="stroke-width:0.25px">**</text>
<rect x="472.00" y="236.60" width="7.60" height="7.20" fill="#fff" stroke="#000" stroke-width="0.6"/>
<line x1="475.80" y1="236.17" x2="475.80" y2="237.03" stroke="#000" stroke-width="0.8"/>
<line x1="474.30" y1="236.17" x2="477.30" y2="236.17" stroke="#000" stroke-width="0.8"/>
<line x1="474.30" y1="237.03" x2="477.30" y2="237.03" stroke="#000" stroke-width="0.8"/>
<rect x="479.60" y="233.00" width="7.25" height="10.80" fill="#000" stroke="#000" stroke-width="0.6"/>
<line x1="483.23" y1="232.42" x2="483.23" y2="233.00" stroke="#000" stroke-width="0.8"/>
<line x1="481.73" y1="232.42" x2="484.73" y2="232.42" stroke="#000" stroke-width="0.8"/>
<rect x="497.80" y="216.01" width="7.60" height="27.79" fill="#fff" stroke="#000" stroke-width="0.6"/>
<line x1="501.60" y1="213.13" x2="501.60" y2="218.89" stroke="#000" stroke-width="0.8"/>
<line x1="500.10" y1="213.13" x2="503.10" y2="213.13" stroke="#000" stroke-width="0.8"/>
<line x1="500.10" y1="218.89" x2="503.10" y2="218.89" stroke="#000" stroke-width="0.8"/>
<rect x="505.40" y="167.98" width="7.45" height="75.82" fill="#000" stroke="#000" stroke-width="0.6"/>
<line x1="509.12" y1="161.86" x2="509.12" y2="167.98" stroke="#000" stroke-width="0.8"/>
<line x1="507.62" y1="161.86" x2="510.62" y2="161.86" stroke="#000" stroke-width="0.8"/>
<line x1="465.90" y1="156.90" x2="465.90" y2="244.30" stroke="#000" stroke-width="1.0"/>
<line x1="465.40" y1="243.80" x2="518.50" y2="243.80" stroke="#000" stroke-width="1.0"/>
<line x1="465.90" y1="243.80" x2="468.10" y2="243.80" stroke="#000" stroke-width="0.9"/>
<text transform="translate(459.10 246.30) scale(0.9346 1)" font-size="7.92" font-weight="bold" text-anchor="end">0</text>
<line x1="465.90" y1="229.40" x2="468.10" y2="229.40" stroke="#000" stroke-width="0.9"/>
<text transform="translate(459.10 231.90) scale(0.9346 1)" font-size="7.92" font-weight="bold" text-anchor="end">200</text>
<line x1="465.90" y1="215.00" x2="468.10" y2="215.00" stroke="#000" stroke-width="0.9"/>
<text transform="translate(459.10 217.50) scale(0.9346 1)" font-size="7.92" font-weight="bold" text-anchor="end">400</text>
<line x1="465.90" y1="200.60" x2="468.10" y2="200.60" stroke="#000" stroke-width="0.9"/>
<text transform="translate(459.10 203.10) scale(0.9346 1)" font-size="7.92" font-weight="bold" text-anchor="end">600</text>
<line x1="465.90" y1="186.20" x2="468.10" y2="186.20" stroke="#000" stroke-width="0.9"/>
<text transform="translate(459.10 188.70) scale(0.9346 1)" font-size="7.92" font-weight="bold" text-anchor="end">800</text>
<line x1="465.90" y1="171.80" x2="468.10" y2="171.80" stroke="#000" stroke-width="0.9"/>
<text transform="translate(459.10 174.30) scale(0.9346 1)" font-size="7.92" font-weight="bold" text-anchor="end">1000</text>
<line x1="465.90" y1="157.40" x2="468.10" y2="157.40" stroke="#000" stroke-width="0.9"/>
<text transform="translate(459.10 159.90) scale(0.9346 1)" font-size="7.92" font-weight="bold" text-anchor="end">1200</text>
<line x1="492.00" y1="243.80" x2="492.00" y2="241.60" stroke="#000" stroke-width="0.9"/>
<line x1="518.00" y1="243.80" x2="518.00" y2="241.60" stroke="#000" stroke-width="0.9"/>
<text transform="translate(439.50 197.70) rotate(-90) scale(0.9346 1)" font-size="7.49" font-weight="bold" text-anchor="middle">IL-6 (pg/ml)</text>
<rect x="471.40" y="153.00" width="4.30" height="3.60" fill="#fff" stroke="#000" stroke-width="0.9"/>
<text transform="translate(478.40 157.00) scale(0.9346 1)" font-size="7.38" font-weight="bold" text-anchor="start">Ctrl</text>
<rect x="471.40" y="161.20" width="4.30" height="3.60" fill="#000" stroke="#000" stroke-width="0.9"/>
<text transform="translate(478.40 165.20) scale(0.9346 1)" font-size="7.38" font-weight="bold" text-anchor="start">siRNA</text>
<text transform="translate(479.00 255.40) scale(0.9346 1)" font-size="7.49" font-weight="bold" text-anchor="middle">PBS</text>
<text transform="translate(504.00 255.40) scale(0.9346 1)" font-size="7.49" font-weight="bold" text-anchor="middle">LPS</text>
<path d="M502.50 159.30V157.80Q502.50 157.20 503.10 157.20H509.20Q509.80 157.20 509.80 157.80V159.30" fill="none" stroke="#000" stroke-width="0.7"/>
<text transform="translate(506.45 157.80) scale(1.1 0.86)" font-size="8.2" font-weight="bold" text-anchor="middle" style="stroke-width:0.25px">**</text>
</g>
</svg>
</body></html>
